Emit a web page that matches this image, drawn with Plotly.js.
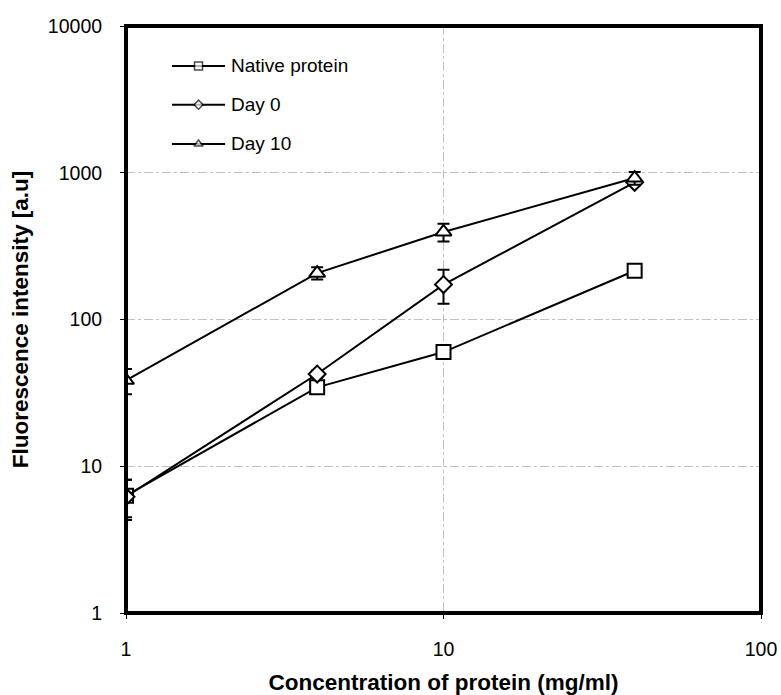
<!DOCTYPE html>
<html>
<head>
<meta charset="utf-8">
<script src="https://cdn.plot.ly/plotly-3.0.1.min.js"></script>
<style>html,body{margin:0;padding:0;background:#fff;}#chart{width:781px;height:695px;}</style>
</head>
<body>
<div id="chart"></div>
<script>
const concentration = [1, 4, 10, 40];
const nativeProtein = [6.3, 34.5, 60, 215];
const nativeErr = [1.8, 2, 4, 10];
const day0 = [6.2, 42.5, 173, 860];
const day0Err = [1.9, 2.5, 45, 40];
const day10 = [38.5, 207, 395, 920];
const day10Err = [7.5, 20, 55, 90];
const seriesNames = ['Native protein', 'Day 0', 'Day 10'];
const seriesSymbols = ['square', 'diamond', 'triangle-up'];
const xTickVals = [1, 10, 100];
const yTickVals = [1, 10, 100, 1000, 10000];

const font = 'Liberation Sans, Arial, sans-serif';
function dataTrace(y, err, symbol, size) {
  return {
    x: concentration, y: y, type: 'scatter', mode: 'lines+markers',
    showlegend: false,
    line: {color: '#000', width: 2},
    marker: {symbol: symbol, size: size, color: '#fff', line: {color: '#000', width: 2}},
    error_y: {type: 'data', array: err, visible: true, color: '#000', thickness: 2, width: 6}
  };
}
// Legend keys drawn on a hidden overlay axis (paper-like 0..1 ranges)
const legX0 = 0.0724, legX1 = 0.156, legTextX = 0.162;
const legRows = [0.932, 0.866, 0.799];
const legSizes = [8, 7, 8];
function legendKey(i) {
  const xm = (legX0 + legX1) / 2;
  return {
    x: [legX0, xm, legX1], y: [legRows[i], legRows[i], legRows[i]],
    xaxis: 'x2', yaxis: 'y2', type: 'scatter', mode: 'lines+markers', showlegend: false,
    hoverinfo: 'skip',
    line: {color: '#000', width: 2},
    marker: {symbol: seriesSymbols[i], size: [0, legSizes[i], 0], color: '#fff',
      line: {color: '#000', width: [0, 1.5, 0]}}
  };
}
const traces = [
  dataTrace(nativeProtein, nativeErr, seriesSymbols[0], 14),
  dataTrace(day0, day0Err, seriesSymbols[1], 13),
  dataTrace(day10, day10Err, seriesSymbols[2], 14),
  legendKey(0), legendKey(1), legendKey(2)
];
const axisCommon = {
  type: 'log', dtick: 1, showgrid: true, gridcolor: '#c0c0c0', gridwidth: 1, griddash: 'dashdot',
  ticks: 'outside', ticklen: 5, tickwidth: 1, tickcolor: '#000',
  showline: false, zeroline: false,
  tickfont: {family: font, size: 19.5, color: '#000'}
};
const titleFont = {family: font, size: 22.5, color: '#000', weight: 'bold'};
const layout = {
  width: 781, height: 695,
  margin: {l: 126, r: 20, t: 26, b: 82},
  paper_bgcolor: '#fff', plot_bgcolor: '#fff',
  showlegend: false,
  xaxis: Object.assign({}, axisCommon, {
    range: [0, 2], tickvals: xTickVals, ticktext: xTickVals.map(String), ticklabelstandoff: 14,
    title: {text: 'Concentration of protein (mg/ml)', font: titleFont, standoff: 14}
  }),
  yaxis: Object.assign({}, axisCommon, {
    range: [0, 4], tickvals: yTickVals, ticktext: yTickVals.map(String), ticklabelstandoff: 14,
    title: {text: 'Fluorescence intensity [a.u]', font: titleFont, standoff: 12}
  }),
  xaxis2: {overlaying: 'x', range: [0, 1], visible: false, fixedrange: true},
  yaxis2: {overlaying: 'y', range: [0, 1], visible: false, fixedrange: true},
  annotations: seriesNames.map((n, i) => ({
    text: n, xref: 'paper', yref: 'paper', x: legTextX, y: legRows[i],
    xanchor: 'left', yanchor: 'middle', showarrow: false,
    font: {family: font, size: 19, color: '#000'}
  })),
  shapes: [{type: 'rect', xref: 'paper', yref: 'paper', x0: 0, x1: 1, y0: 0, y1: 1,
    line: {color: '#000', width: 4}, layer: 'above'}]
};
Plotly.newPlot('chart', traces, layout, {displayModeBar: false, staticPlot: true});
</script>
</body>
</html>
